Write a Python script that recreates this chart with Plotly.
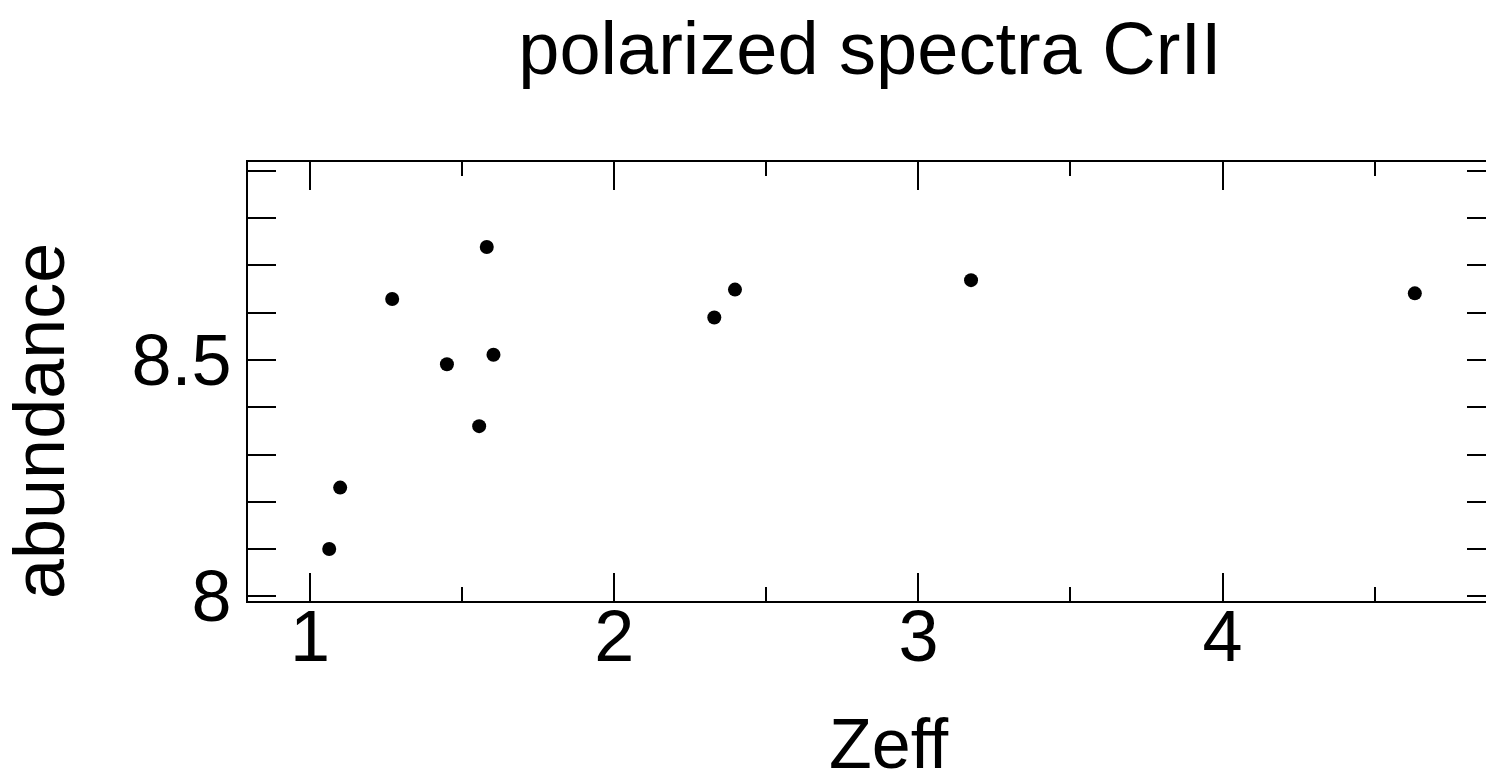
import plotly.graph_objects as go

zeff = [1.063, 1.099, 1.270, 1.450, 1.556, 1.581, 1.603, 2.329, 2.397, 3.173, 4.632]
abundance = [8.100, 8.230, 8.629, 8.491, 8.360, 8.739, 8.511, 8.590, 8.649, 8.669, 8.641]

x_ticks = [1, 2, 3, 4]
x_tick_labels = ["1", "2", "3", "4"]
y_ticks = [8, 8.5]
y_tick_labels = ["8", "8.5"]

FONT = "Liberation Sans"
XR = [0.796, 4.866]
YR = [7.99, 8.919]

fig = go.Figure()
fig.add_trace(go.Scatter(
    x=zeff, y=abundance, mode="markers",
    marker=dict(color="black", size=14, line=dict(width=0)),
    showlegend=False, hoverinfo="skip",
))
# invisible trace to carry the right-hand tick axis
fig.add_trace(go.Scatter(
    x=zeff, y=abundance, mode="markers", yaxis="y2",
    marker=dict(opacity=0), showlegend=False, hoverinfo="skip",
))

fig.update_layout(
    width=1487, height=783,
    margin=dict(l=248, r=1, t=162, b=182),
    paper_bgcolor="white", plot_bgcolor="white",
    font=dict(family=FONT, color="black"),
    title=dict(text="polarized spectra CrII", x=0.585, xanchor="center",
               y=0.9387, yanchor="middle", yref="container",
               font=dict(family=FONT, size=74, color="black")),
    xaxis=dict(
        range=XR, tickmode="array", tickvals=x_ticks, ticktext=x_tick_labels,
        ticks="inside", ticklen=28, tickwidth=2, tickcolor="black",
        showline=True, linecolor="black", linewidth=2, mirror="ticks",
        showgrid=False, zeroline=False,
        tickfont=dict(family=FONT, size=72, color="black"),
        ticklabelstandoff=-28,
        minor=dict(dtick=0.5, tick0=0, ticks="inside", ticklen=14, tickwidth=2,
                   tickcolor="black", showgrid=False),
    ),
    yaxis=dict(
        range=YR, tickmode="array", tickvals=y_ticks, ticktext=y_tick_labels,
        ticks="inside", ticklen=28, tickwidth=2, tickcolor="black",
        showline=True, linecolor="black", linewidth=2,
        showgrid=False, zeroline=False,
        tickfont=dict(family=FONT, size=72, color="black"),
        minor=dict(dtick=0.1, tick0=8, ticks="inside", ticklen=28, tickwidth=2,
                   tickcolor="black", showgrid=False),
    ),
    yaxis2=dict(
        range=YR, overlaying="y", side="right", showticklabels=False,
        tickmode="array", tickvals=y_ticks,
        ticks="inside", ticklen=19, tickwidth=2, tickcolor="black",
        showline=False, showgrid=False, zeroline=False,
        minor=dict(dtick=0.1, tick0=8, ticks="inside", ticklen=19, tickwidth=2,
                   tickcolor="black", showgrid=False),
    ),
    annotations=[
        dict(text="Zeff", xref="paper", yref="paper", x=0.518, y=-0.326,
             xanchor="center", yanchor="middle", showarrow=False,
             font=dict(family=FONT, size=70, color="black")),
        dict(text="abundance", xref="paper", yref="paper", x=-0.1688, y=0.41,
             xanchor="center", yanchor="middle", showarrow=False, textangle=-90,
             font=dict(family=FONT, size=72, color="black")),
    ],
)

fig.write_html("out.html")
